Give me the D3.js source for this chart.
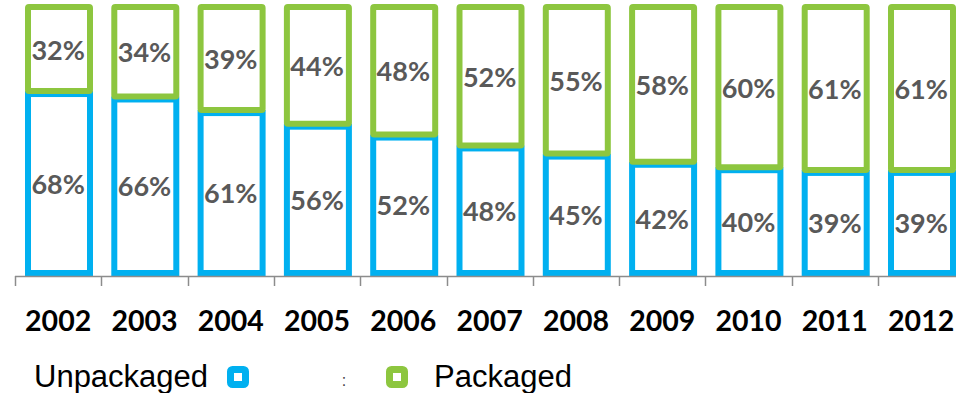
<!DOCTYPE html>
<html><head><meta charset="utf-8">
<script src="https://cdn.jsdelivr.net/npm/d3@7"></script>
<style>body{margin:0;background:#fff}svg{display:block}</style>
</head><body>
<svg id="c" width="956" height="393"></svg>
<script>
const years = ["2002","2003","2004","2005","2006","2007","2008","2009","2010","2011","2012"];
const unpackaged = [68,66,61,56,52,48,45,42,40,39,39];
const packaged = [32,34,39,44,48,52,55,58,60,61,61];
const legendLabels = ["Unpackaged","Packaged"];
const colors = {unpackaged:"#00B0F0", packaged:"#8DC63F"};

const svg = d3.select("#c");
const step = 86.3;
const x = d3.scaleBand().domain(years).range([15, 15 + step*years.length]).padding(0);
const y = d3.scaleLinear().domain([0,100]).range([276,4]);
const sw = 6, pad = 10, bw = 68;

const g = svg.append("g");
years.forEach((yr,i)=>{
  const x0 = x(yr) + pad;
  const b = y(unpackaged[i]);
  g.append("rect").attr("x", x0+sw/2).attr("y", b+sw/2)
    .attr("width", bw-sw).attr("height", y(0)-b-sw)
    .attr("fill","#fff").attr("stroke",colors.unpackaged).attr("stroke-width",sw);
  g.append("rect").attr("x", x0+sw/2).attr("y", y(100)+sw/2)
    .attr("width", bw-sw).attr("height", b+3-y(100)-sw)
    .attr("fill","#fff").attr("stroke",colors.packaged).attr("stroke-width",sw).attr("rx",1);
  const cx = x(yr)+step/2;
  g.append("text").attr("x",cx).attr("y",(b+y(0))/2+10)
    .attr("text-anchor","middle").attr("font-family","Lato").attr("font-weight","bold")
    .attr("font-size",27).attr("fill","#595959").text(unpackaged[i]+"%");
  g.append("text").attr("x",cx).attr("y",(b+y(100))/2+12)
    .attr("text-anchor","middle").attr("font-family","Lato").attr("font-weight","bold")
    .attr("font-size",27).attr("fill","#595959").text(packaged[i]+"%");
});

const ax = svg.append("g").attr("stroke","#8c8c8c").attr("stroke-width",1.5);
ax.append("line").attr("x1",15).attr("x2",956).attr("y1",276.5).attr("y2",276.5);
const tickX = years.map(d=>x(d)).concat([x(years[years.length-1])+step]);
tickX.forEach(t=>{
  ax.append("line").attr("x1",Math.round(t)+0.5).attr("x2",Math.round(t)+0.5).attr("y1",276).attr("y2",286);
});
svg.append("g").selectAll("text").data(years).join("text")
  .attr("x",d=>x(d)+step/2).attr("y",331)
  .attr("text-anchor","middle").attr("font-family","Lato").attr("font-weight","bold")
  .attr("font-size",28.5).attr("fill","#000").text(d=>d);

const lg = svg.append("g");
lg.append("text").attr("x",34).attr("y",387).attr("font-family","Liberation Sans")
  .attr("font-size",31).attr("fill","#000").text(legendLabels[0]);
lg.append("rect").attr("x",230.5).attr("y",369.5).attr("width",15).attr("height",15).attr("rx",2)
  .attr("fill","#fff").attr("stroke",colors.unpackaged).attr("stroke-width",7);
lg.append("text").attr("x",344).attr("y",386).attr("font-family","Liberation Sans")
  .attr("font-size",16).attr("fill","#444").attr("text-anchor","middle").text(":");
lg.append("rect").attr("x",389.5).attr("y",369.5).attr("width",15).attr("height",15).attr("rx",2)
  .attr("fill","#fff").attr("stroke",colors.packaged).attr("stroke-width",7);
lg.append("text").attr("x",434).attr("y",387).attr("font-family","Liberation Sans")
  .attr("font-size",31).attr("fill","#000").text(legendLabels[1]);
</script>
</body></html>
